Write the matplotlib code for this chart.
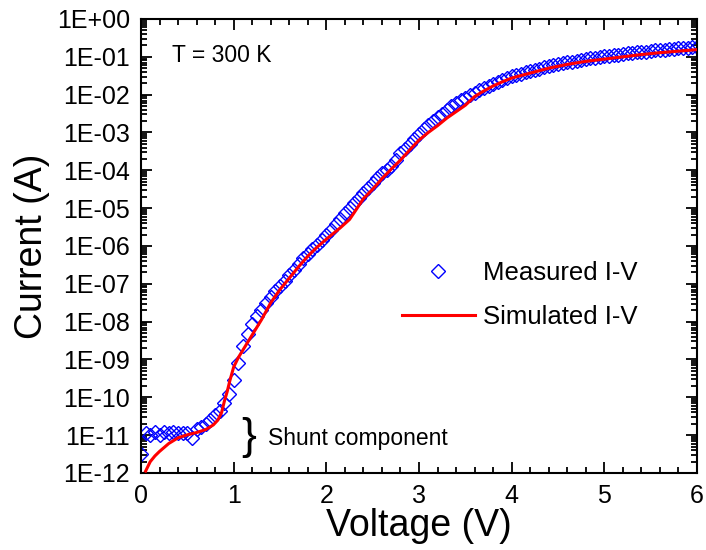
import numpy as np
import matplotlib.pyplot as plt
from matplotlib.ticker import MultipleLocator, LogLocator, FuncFormatter, NullFormatter

plt.rcParams['font.family'] = ['Liberation Sans', 'DejaVu Sans']

# measured I-V, voltage step 0.05 V, values are log10(I / A)
meas_v = np.arange(0, 121) * 0.05
meas_log_i = [
    -11.5, -10.95, -11.0, -10.92, -11.0, -10.92, -10.95, -10.92, -10.95, -10.93,
    -10.95, -11.07, -10.85, -10.78, -10.7, -10.6, -10.48, -10.35, -10.15, -9.92,
    -9.55, -9.1, -8.65, -8.32, -8.05, -7.85, -7.68, -7.5, -7.34, -7.2,
    -7.06, -6.92, -6.77, -6.63, -6.48, -6.32, -6.2, -6.08, -5.97, -5.85,
    -5.72, -5.58, -5.43, -5.28, -5.13, -5.0, -4.87, -4.72, -4.6, -4.48,
    -4.33, -4.2, -4.08, -3.98, -3.88, -3.72, -3.55, -3.43, -3.30, -3.18,
    -3.05, -2.92, -2.81, -2.70, -2.59, -2.5, -2.40, -2.31, -2.23, -2.15,
    -2.08, -2.01, -1.95, -1.89, -1.83, -1.77, -1.71, -1.66, -1.61, -1.56,
    -1.52, -1.48, -1.45, -1.41, -1.37, -1.34, -1.31, -1.28, -1.25, -1.22,
    -1.2, -1.17, -1.15, -1.13, -1.1, -1.08, -1.06, -1.04, -1.02, -1.0,
    -0.99, -0.97, -0.96, -0.94, -0.93, -0.91, -0.90, -0.88, -0.87, -0.86,
    -0.84, -0.83, -0.82, -0.81, -0.8, -0.79, -0.78, -0.77, -0.76, -0.75,
    -0.74]

# simulated I-V
sim_v = [0.05, 0.10, 0.15, 0.20, 0.30, 0.40, 0.50, 0.60, 0.70, 0.78,
         0.83, 0.87, 0.90, 0.93, 0.96, 1.00, 1.05, 1.10, 1.20, 1.30,
         1.40, 1.50, 1.60, 1.70, 1.80, 1.90, 2.00, 2.07, 2.15, 2.25,
         2.30, 2.40, 2.50, 2.60, 2.70, 2.80, 2.90, 3.00, 3.10, 3.20,
         3.30, 3.40, 3.50, 3.60, 3.70, 3.80, 3.90, 4.00, 4.20, 4.40,
         4.60, 4.80, 5.00, 5.20, 5.40, 5.60, 5.80, 6.00]
sim_log_i = [-11.95, -11.7, -11.55, -11.43, -11.22, -11.07, -10.99, -10.93, -10.85, -10.73,
             -10.6, -10.4, -10.1, -9.85, -9.55, -9.2, -8.95, -8.75, -8.35, -7.95,
             -7.5, -7.15, -6.85, -6.55, -6.27, -6.03, -5.82, -5.68, -5.52, -5.3,
             -5.12, -4.75, -4.5, -4.22, -3.97, -3.73, -3.46, -3.2, -3.0, -2.82,
             -2.62, -2.45, -2.28, -2.05, -1.9, -1.77, -1.66, -1.56, -1.43, -1.30,
             -1.2, -1.12, -1.06, -1.0, -0.94, -0.89, -0.85, -0.81]

fig = plt.figure(figsize=(7.06, 5.5), dpi=100)
ax = fig.add_axes([0.1997, 0.14, 0.7876, 0.8255])

ax.semilogy(meas_v, 10.0 ** np.array(meas_log_i), 'D', ms=7, mfc='none',
            mec='#0000ff', mew=1.0, label='Measured I-V', zorder=2)
ax.semilogy(sim_v, 10.0 ** np.array(sim_log_i), '-', color='#ff0000', lw=2.2,
            label='Simulated I-V', zorder=3)

ax.set_xlim(0, 6)
ax.set_ylim(1e-12, 1)

ax.xaxis.set_major_locator(MultipleLocator(1))
ax.xaxis.set_minor_locator(MultipleLocator(0.2))
ax.yaxis.set_major_locator(LogLocator(base=10, numticks=20))
ax.yaxis.set_minor_locator(LogLocator(base=10, subs=np.arange(2, 10), numticks=20))
ax.yaxis.set_major_formatter(FuncFormatter(lambda v, p: '1E%+03d' % round(np.log10(v))))
ax.yaxis.set_minor_formatter(NullFormatter())

ax.tick_params(which='both', direction='in', top=True, right=True, width=1.3)
ax.tick_params(which='major', length=8, labelsize=18)
ax.tick_params(which='minor', length=4)
ax.tick_params(axis='x', pad=8)
ax.tick_params(axis='y', pad=8)
for s in ax.spines.values():
    s.set_linewidth(1.5)

ax.set_xlabel('Voltage (V)', fontsize=27, labelpad=0)
ax.set_ylabel('Current (A)', fontsize=27, labelpad=5)

ax.text(0.055, 0.905, 'T = 300 K', transform=ax.transAxes, fontsize=16.5)
ax.text(1.08, 0.85e-11, '}', fontsize=32, va='center', ha='left')
ax.text(1.37, 0.8e-11, 'Shunt component', fontsize=16.5, va='center', ha='left')

ax.legend(loc='upper left', bbox_to_anchor=(0.469, 0.466), frameon=False,
          fontsize=18.5, numpoints=1, handlelength=2.85, handletextpad=0.3,
          labelspacing=0.75, borderpad=0, borderaxespad=0)

fig.savefig('out.png', dpi=100)
